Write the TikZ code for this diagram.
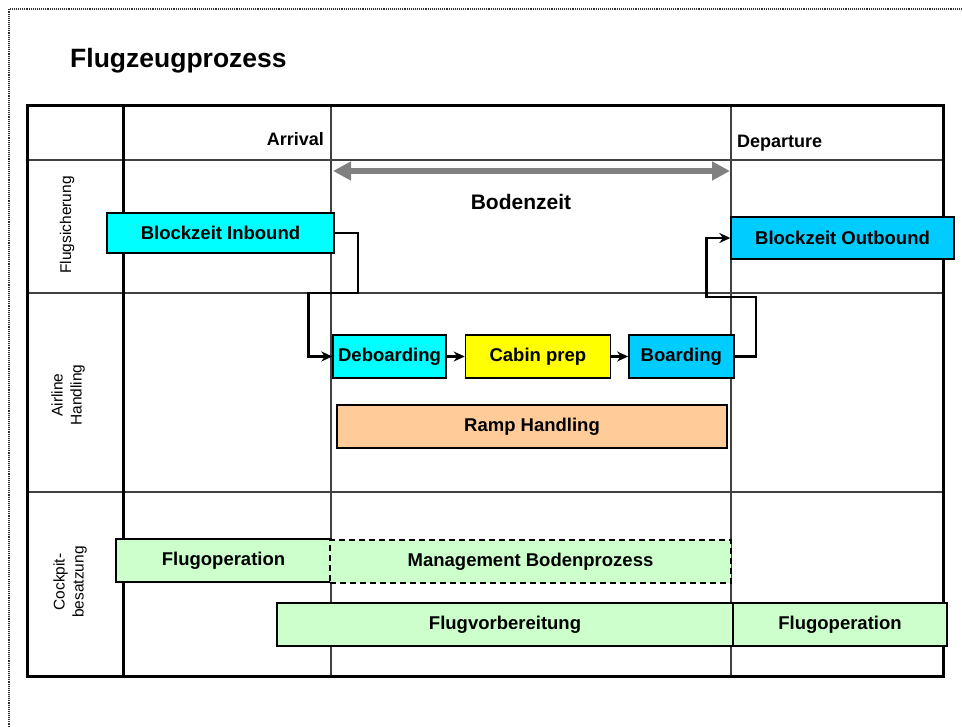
\documentclass[tikz,border=0pt]{standalone}
\usepackage{fontspec}
\setmainfont{Liberation Sans}
\usetikzlibrary{positioning,arrows.meta}

\definecolor{zyan}{HTML}{00FFFF}
\definecolor{himmel}{HTML}{00CCFF}
\definecolor{gelb}{HTML}{FFFF00}
\definecolor{pfirsich}{HTML}{FFCC99}
\definecolor{hellgruen}{HTML}{CCFFCC}
\definecolor{linie}{HTML}{404040}

\begin{document}
\begin{tikzpicture}[x=1pt,y=-1pt]
\useasboundingbox (0,0) rectangle (962,727);
%% Draw page frame and title
\draw[densely dotted,gray!40!black,line width=1.1pt] (962,9) -- (9,9) -- (9,727);
\node [anchor=base west,inner sep=0pt,font=\fontsize{26.5}{28}\selectfont\bfseries] (titel) at (70,68) {Flugzeugprozess};

%% Draw swimlane table
  \begin{scope}[spur/.style={linie,line width=1.6pt},
       trenner/.style={linie,line width=1.2pt}]
   \draw[spur] (27,160) -- (943,160);
   \draw[spur] (27,293) -- (943,293);
   \draw[spur] (27,492) -- (943,492);
   \draw[trenner] (331,106) -- (331,676);
   \draw[trenner] (731,106) -- (731,676);
   \draw[line width=3pt] (123,106) -- (123,676);
   \draw[line width=3pt] (27,106) rectangle (943,676);
   \node [anchor=base east,inner sep=0pt,font=\fontsize{18}{20}\selectfont\bfseries] (arrival) at (324,146) {Arrival};
   \node [anchor=base west,inner sep=0pt,font=\fontsize{18}{20}\selectfont\bfseries] (departure) at (737,148) {Departure};
    \node [rotate=90,font=\fontsize{15.5}{19}\selectfont] (flugsich) at (67,225) {Flugsicherung};
    \node [rotate=90,align=center,font=\fontsize{15.5}{19}\selectfont] (airline) at (68,395) {Airline\\Handling};
    \node [rotate=90,align=center,font=\fontsize{15.5}{19}\selectfont] (cockpit) at (70,582) {Cockpit-\\besatzung};
  \end{scope}

%% Draw ground time
   \coordinate (bodenA) at (333,171);
   \coordinate (bodenB) at (730,171);
   \draw[gray,line width=6pt,{Triangle[length=18pt,width=18pt]}-{Triangle[length=18pt,width=18pt]}] (bodenA) -- (bodenB);
   \node [font=\fontsize{21}{23}\selectfont\bfseries] (bodenzeit) at (521,202) {Bodenzeit};

%% Draw process boxes and flow
  \begin{scope}[node distance=18pt,>={Stealth[length=11pt,width=10pt]},
       kasten/.style={rectangle,draw=black,line width=1.4pt,minimum height=43pt,inner sep=0pt,
                      font=\fontsize{18.5}{20}\selectfont\bfseries},
       fluss/.style={->,line width=2.6pt}]
   \node [kasten,fill=zyan,minimum width=227pt,minimum height=40pt] (inbound) at (220.5,233) {Blockzeit Inbound};
   \node [kasten,fill=himmel,minimum width=223pt,minimum height=42pt] (outbound) at (842.5,238) {Blockzeit Outbound};
   \node [kasten,fill=zyan,minimum width=113pt] (deboarding) at (389.5,356.5) {Deboarding};
    \node [kasten,fill=gelb,minimum width=145pt] (cabin) [right=of deboarding] {Cabin prep};
    \node [kasten,fill=himmel,minimum width=105pt] (boarding) [right=17pt of cabin] {Boarding};
   \node [kasten,fill=pfirsich,minimum width=390pt] (ramp) at (532,426.5) {Ramp Handling};
   \node [kasten,fill=hellgruen,minimum width=215pt] (flugop) at (223.5,560.5) {Flugoperation};
   \node [kasten,fill=hellgruen,dash pattern=on 6pt off 4pt,minimum width=401pt] (management) at (530.5,561.5) {Management Bodenprozess};
   \node [kasten,fill=hellgruen,minimum width=456pt] (flugvor) at (505,624.5) {Flugvorbereitung};
   \node [kasten,fill=hellgruen,minimum width=214pt] (flugop2) at (840,624.5) {Flugoperation};
   \draw[fluss] (inbound.east) -| (358,293) -| ([xshift=-24pt]deboarding.west) -- (deboarding.west);
   \draw[fluss] (deboarding) -- (cabin);
   \draw[fluss] (cabin) -- (boarding);
   \draw[fluss] (boarding.east) -| (756,297) -| ([xshift=-24pt]outbound.west) -- (outbound.west);
  \end{scope}
\end{tikzpicture}
\end{document}
